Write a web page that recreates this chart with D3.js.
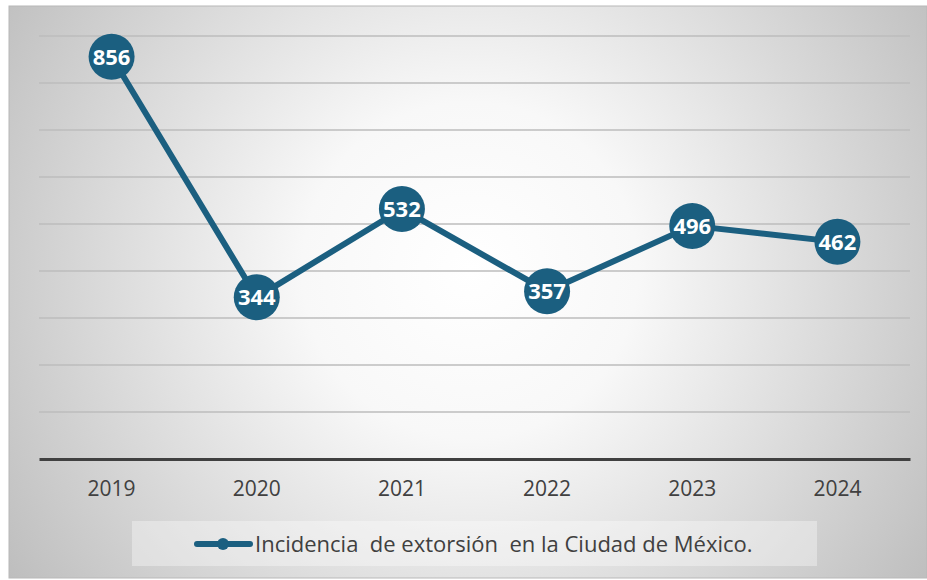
<!DOCTYPE html>
<html><head><meta charset="utf-8">
<script src="https://cdn.jsdelivr.net/npm/d3@7"></script>
<style>
html,body{margin:0;padding:0;background:#fff;}
svg{display:block;}
</style></head>
<body>
<svg id="chart" width="927" height="580"></svg>
<script>
const years = ["2019","2020","2021","2022","2023","2024"];
const values = [856, 344, 532, 357, 496, 462];
const yTicks = [100,200,300,400,500,600,700,800,900];
const seriesName = "Incidencia  de extorsión  en la Ciudad de México.";

const svg = d3.select("#chart");
const W = 927, H = 580;
const color = "#1b5f80";
const textColor = "#404040";
const font = "'Open Sans', 'Noto Sans', sans-serif";

const defs = svg.append("defs");
const grad = defs.append("radialGradient").attr("id","bg")
  .attr("gradientUnits","userSpaceOnUse")
  .attr("cx",470).attr("cy",270).attr("r",560);
grad.append("stop").attr("offset","0%").attr("stop-color","#ffffff");
grad.append("stop").attr("offset","30%").attr("stop-color","#f8f8f8");
grad.append("stop").attr("offset","100%").attr("stop-color","#bdbdbd");

svg.append("rect").attr("x",9).attr("y",6).attr("width",W-9).attr("height",H-8)
  .attr("fill","url(#bg)").attr("stroke","#b8b8b8").attr("stroke-width",1);

const left = 39, right = 910;
const x = d3.scaleBand().domain(years).range([left,right]);
const y = d3.scaleLinear().domain([0,900]).range([459,36]);

// gridlines
svg.append("g").selectAll("line").data(yTicks).join("line")
  .attr("x1",left).attr("x2",right)
  .attr("y1",d=>y(d)).attr("y2",d=>y(d))
  .attr("stroke","#bdbdbd").attr("stroke-width",1.5);

// x axis
const xAxis = svg.append("g").attr("transform",`translate(0,${y(0)})`)
  .call(d3.axisBottom(x).tickSize(0).tickPadding(22));
xAxis.select(".domain").attr("stroke","#404040").attr("stroke-width",3);
xAxis.selectAll("text").attr("fill",textColor).attr("font-size",21)
  .attr("font-family",font);

// line
const line = d3.line().x((d,i)=>x(years[i])+x.bandwidth()/2).y(d=>y(d));
svg.append("path").datum(values).attr("d",line)
  .attr("fill","none").attr("stroke",color).attr("stroke-width",6)
  .attr("stroke-linejoin","round");

const pts = svg.append("g").selectAll("g").data(values).join("g")
  .attr("transform",(d,i)=>`translate(${x(years[i])+x.bandwidth()/2},${y(d)})`);
pts.append("circle").attr("r",23).attr("fill",color);
pts.append("text").text(d=>d).attr("text-anchor","middle").attr("dy","0.36em")
  .attr("fill","#fff").attr("font-weight","bold").attr("font-size",22)
  .attr("font-family",font);

// legend
const lg = svg.append("g");
lg.append("rect").attr("x",132).attr("y",521).attr("width",685).attr("height",45)
  .attr("fill","#ffffff").attr("fill-opacity",0.35);
lg.append("line").attr("x1",197).attr("x2",250).attr("y1",544).attr("y2",544)
  .attr("stroke",color).attr("stroke-width",6).attr("stroke-linecap","round");
lg.append("circle").attr("cx",223).attr("cy",544).attr("r",6).attr("fill",color);
lg.append("text").attr("x",255).attr("y",544).attr("dy","0.35em")
  .attr("fill",textColor).attr("font-size",22).style("white-space","pre")
  .attr("font-family",font)
  .text(seriesName);
</script>
</body></html>
